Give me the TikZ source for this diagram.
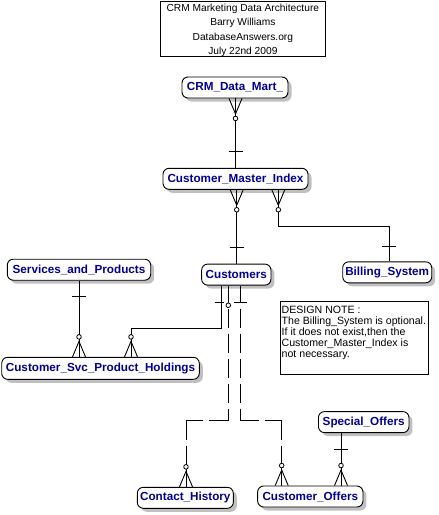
\documentclass[tikz,border=0pt]{standalone}
\usepackage{fontspec}
\setmainfont{Liberation Sans}
\usetikzlibrary{shadows,calc}
\definecolor{entblue}{RGB}{0,0,150}
\definecolor{shadowgray}{RGB}{192,192,192}
\tikzset{
  entity/.style={draw=black, line width=0.9pt, rounded corners=6pt, fill=white,
    inner sep=0pt, text=entblue, font=\fontsize{11.7}{14}\selectfont\bfseries,
    minimum height=21pt,
    drop shadow={shadow xshift=3.5pt, shadow yshift=-3.5pt, fill=shadowgray, opacity=1}},
  rel/.style={line width=0.9pt},
  dashrel/.style={line width=0.9pt, dash pattern=on 19pt off 6pt},
  optcircle/.style={draw, fill=white, line width=0.8pt},
  plainbox/.style={draw=black, line width=0.9pt, inner sep=0pt},
  titletext/.style={anchor=base, inner sep=0pt, font=\fontsize{10.2}{12}\selectfont},
  notetext/.style={anchor=base west, inner sep=0pt, font=\fontsize{10.6}{12}\selectfont},
  pics/footdown/.style={code={
    \draw[rel] (-6.5,0) -- (0,15.5) -- (6.5,0);
    \draw[rel] (0,0) -- (0,17.7);
    \draw[optcircle] (0,20) circle[radius=2.3pt];
  }},
  pics/footup/.style={code={
    \draw[rel] (-6.5,0) -- (0,-15.5) -- (6.5,0);
    \draw[rel] (0,0) -- (0,-17.7);
    \draw[optcircle] (0,-20) circle[radius=2.3pt];
  }},
  pics/barh/.style={code={\draw[rel] (-7,0) -- (7,0);}},
}
\begin{document}
\begin{tikzpicture}[x=1pt,y=-1pt]
\useasboundingbox (0,0) rectangle (439,515);

% title
\node[plainbox, minimum width=165.7pt, minimum height=55pt] (title) at (242.85,28.5) {};
\node[titletext] (t1) at (242.85,11) {CRM Marketing Data Architecture};
\node[titletext] (t2) at (242.85,25.5) {Barry Williams};
\node[titletext] (t3) at (242.85,40) {DatabaseAnswers.org};
\node[titletext] (t4) at (242.85,54.3) {July 22nd 2009};

% design note
\node[plainbox, minimum width=148.7pt, minimum height=73pt] (note) at (354.35,337.5) {};
\node[notetext] (n1) at (281.5,313.8) {DESIGN NOTE :};
\node[notetext] (n2) at (281.5,324.6) {The Billing\_System is optional.};
\node[notetext] (n3) at (281.5,335.4) {If it does not exist,then the};
\node[notetext] (n4) at (281.5,346.2) {Customer\_Master\_Index is};
\node[notetext] (n5) at (281.5,357) {not necessary.};

% entities
\node[entity, minimum width=106pt] (crm) at (235,87.5) {CRM\_Data\_Mart\_};
\node[entity, minimum width=145pt] (cmi) at (235.5,178.8) {Customer\_Master\_Index};
\node[entity, minimum width=143.4pt] (svc) at (79,269.7) {Services\_and\_Products};
\node[entity, minimum width=69.3pt] (cust) at (236.3,274.6) {Customers};
\node[entity, minimum width=89pt] (bill) at (387.2,272.3) {Billing\_System};
\node[entity, minimum width=197.6pt, minimum height=22pt] (hold) at (100.5,368.3) {Customer\_Svc\_Product\_Holdings};
\node[entity, minimum width=90.5pt] (spec) at (363.7,422.1) {Special\_Offers};
\node[entity, minimum width=96pt] (hist) at (185.3,497.8) {Contact\_History};
\node[entity, minimum width=105.3pt] (coff) at (310.3,496.5) {Customer\_Offers};

% crm -> cmi
\coordinate (xA) at (235.5,0);
\draw[rel] (crm.south -| xA) -- (cmi.north -| xA);
\pic at (crm.south -| xA) {footdown};
\pic at ($(cmi.north -| xA)+(0,-16)$) {barh};

% cmi -> cust
\coordinate (xB) at (236.7,0);
\draw[rel] (cmi.south -| xB) -- (cust.north -| xB);
\pic at (cmi.south -| xB) {footdown};
\pic at ($(cust.north -| xB)+(0,-16.5)$) {barh};

% cmi -> bill
\coordinate (xC) at (278.3,0);
\coordinate (xD) at (389,0);
\coordinate (yC) at (0,226);
\draw[rel] (cmi.south -| xC) -- (xC |- yC) -- (xD |- yC) -- (bill.north -| xD);
\pic at (cmi.south -| xC) {footdown};
\pic at ($(bill.north -| xD)+(0,-15.3)$) {barh};

% svc -> hold
\coordinate (xE) at (79,0);
\draw[rel] (svc.south -| xE) -- (hold.north -| xE);
\pic at ($(svc.south -| xE)+(0,16)$) {barh};
\pic at (hold.north -| xE) {footup};

% cust -> hold
\coordinate (xF) at (221,0);
\coordinate (xG) at (131,0);
\coordinate (yF) at (0,328.7);
\draw[rel] (cust.south -| xF) -- (xF |- yF) -- (xG |- yF) -- (hold.north -| xG);
\draw[rel] ($(cust.south -| xF)+(-6.5,17)$) -- ++(9.5,0);
\pic at (hold.north -| xG) {footup};

% cust -> hist
\coordinate (xH) at (228.3,0);
\coordinate (xI) at (186,0);
\coordinate (yH) at (0,420.7);
\draw[rel, dash pattern=on 19pt off 6pt, dash phase=2pt] (cust.south -| xH) -- (xH |- yH);
\draw[optcircle] ($(cust.south -| xH)+(0,19.7)$) circle[radius=2.3pt];
\draw[dashrel] (xH |- yH) -- (xI |- yH);
\draw[dashrel] (xI |- yH) -- ($(hist.north -| xI)+(0,-17.7)$);
\pic at (hist.north -| xI) {footup};

% cust -> coff
\coordinate (xJ) at (240.3,0);
\coordinate (xK) at (281.7,0);
\draw[rel, dash pattern=on 19pt off 6pt, dash phase=2pt] (cust.south -| xJ) -- (xJ |- yH);
\draw[rel] ($(cust.south -| xJ)+(-6.5,17)$) -- ++(13,0);
\draw[dashrel] (xJ |- yH) -- (xK |- yH);
\draw[dashrel] (xK |- yH) -- ($(coff.north -| xK)+(0,-17.7)$);
\pic at (coff.north -| xK) {footup};

% spec -> coff
\coordinate (xL) at (341,0);
\draw[rel] (spec.south -| xL) -- (coff.north -| xL);
\pic at ($(spec.south -| xL)+(0,16)$) {barh};
\pic at (coff.north -| xL) {footup};
\end{tikzpicture}
\end{document}
